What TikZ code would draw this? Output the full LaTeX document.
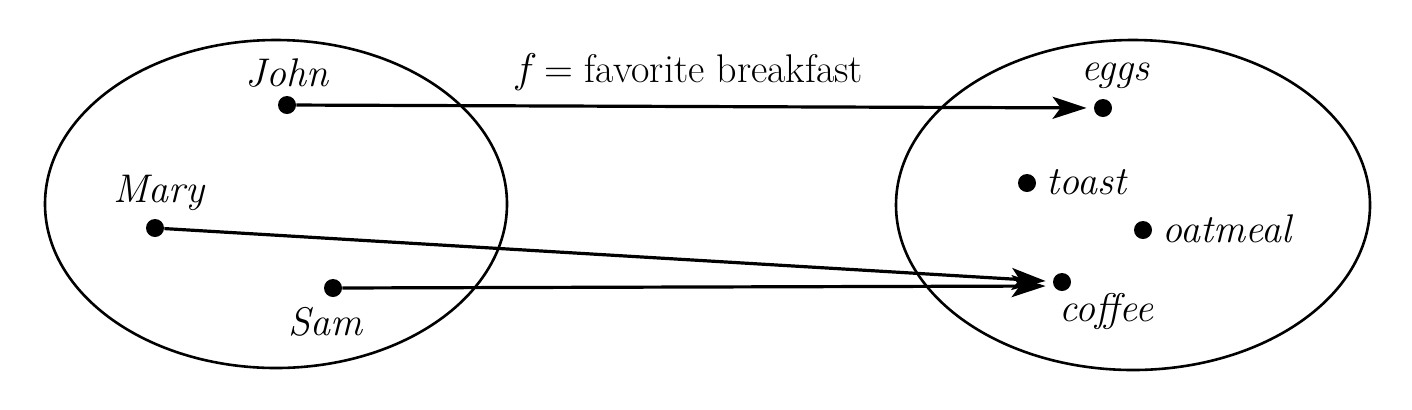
\documentclass[tikz,border=0pt]{standalone}
\usetikzlibrary{arrows.meta,positioning}
\tikzset{
	elem/.style={
		circle,
		fill=black,
		inner sep=0pt,
		minimum size=9pt,
	},
	elemlabel/.style={
		font=\fontsize{20}{24}\selectfont\itshape,
		inner sep=2pt,
	},
	setline/.style={
		line width=1.3pt,
	},
	map/.style={
		-{Stealth[length=17pt,width=11pt,inset=4pt]},
		line width=1.6pt,
		shorten >=3.5pt,
	},
}
\begin{document}
\begin{tikzpicture}[x=0.5pt,y=-0.5pt]
	\useasboundingbox (0,0) rectangle (1412,409);
	% domain and codomain
	\draw[setline] (276,204) ellipse [x radius=231,y radius=164];
	\draw[setline] (1133,205) ellipse [x radius=237,y radius=165];

	% people
	\node [elem] (john) at (287,105) {};
	\node [elemlabel,above=2pt of john,xshift=0pt] (johnl) {John};
	\node [elem] (mary) at (155,228) {};
	\node [elemlabel,above=2pt of mary,xshift=2pt] (maryl) {Mary};
	\node [elem] (sam) at (333,288) {};
	\node [elemlabel,below=3pt of sam,xshift=-4pt] (saml) {Sam};

	% breakfasts
	\node [elem] (eggs) at (1103,108) {};
	\node [elemlabel,above=3pt of eggs,xshift=6pt] (eggsl) {eggs};
	\node [elem] (toast) at (1027,183) {};
	\node [elemlabel,right=3pt of toast,yshift=0.5pt] (toastl) {toast};
	\node [elem] (oatmeal) at (1143,230) {};
	\node [elemlabel,right=3pt of oatmeal,yshift=0.5pt] (oatmeall) {oatmeal};
	\node [elem] (coffee) at (1062,282) {};
	\node [elemlabel,below=-1pt of coffee,xshift=22pt] (coffeel) {coffee};

	\node [font=\fontsize{20}{24}\selectfont] (f) at (688,72) {$f$\,= favorite breakfast};

	\draw[map] (john) -- (eggs);
	\draw[map] (mary) -- (coffee);
	\draw[map] (sam) -- ([yshift=-2pt]coffee.west);
\end{tikzpicture}
\end{document}
